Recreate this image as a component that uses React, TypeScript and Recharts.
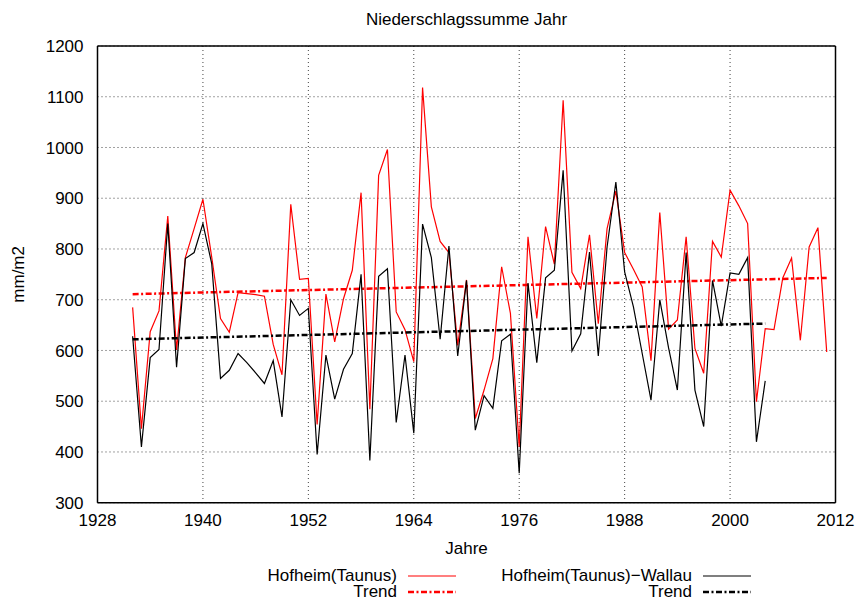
import React from "react";
import { CartesianGrid, Label, Legend, Line, LineChart, XAxis, YAxis } from "recharts";

// Jahresniederschlag in mm/m2
const years = [
  1932, 1933, 1934, 1935, 1936, 1937, 1938, 1939, 1940, 1941,
  1942, 1943, 1944, 1945, 1946, 1947, 1948, 1949, 1950, 1951,
  1952, 1953, 1954, 1955, 1956, 1957, 1958, 1959, 1960, 1961,
  1962, 1963, 1964, 1965, 1966, 1967, 1968, 1969, 1970, 1971,
  1972, 1973, 1974, 1975, 1976, 1977, 1978, 1979, 1980, 1981,
  1982, 1983, 1984, 1985, 1986, 1987, 1988, 1989, 1990, 1991,
  1992, 1993, 1994, 1995, 1996, 1997, 1998, 1999, 2000, 2001,
  2002, 2003, 2004, 2005, 2006, 2007, 2008, 2009, 2010, 2011,
];

const hofheimMm = [
  685, 446, 637, 678, 865, 601, 783, 840, 898, 784,
  663, 636, 714, 712, 710, 707, 612, 552, 888, 740,
  742, 454, 711, 617, 702, 758, 911, 484, 945, 996,
  676, 641, 578, 1118, 883, 815, 793, 610, 739, 466,
  522, 584, 765, 673, 410, 824, 663, 844, 770, 1093,
  754, 722, 828, 653, 840, 914, 793, 760, 725, 580,
  872, 642, 660, 824, 604, 555, 815, 784, 916, 885,
  850, 499, 643, 641, 743, 782, 620, 804, 842, 597,
];

// Wallau endet 2004
const wallauMm = [
  628, 410, 586, 602, 850, 567, 781, 793, 850, 771,
  545, 561, 594, 576, 556, 535, 580, 469, 700, 669,
  683, 395, 591, 504, 563, 594, 750, 383, 746, 761,
  458, 591, 437, 849, 783, 622, 806, 589, 738, 443,
  511, 486, 619, 632, 358, 733, 576, 743, 758, 955,
  599, 633, 794, 589, 804, 932, 755, 686, 594, 502,
  700, 605, 522, 793, 522, 450, 738, 648, 753, 750,
  783, 420, 540,
];

// lineare Trends: Anfangs- und Endpunkt
const hofheimTrendYears = [1932, 2011];
const hofheimTrendMm = [711, 743];
const wallauTrendYears = [1932, 2004];
const wallauTrendMm = [622, 653];

const yearTicks = [1928, 1940, 1952, 1964, 1976, 1988, 2000, 2012];
const minorYearTicks = [1933, 1938, 1945, 1950, 1957, 1962, 1969, 1974, 1981, 1986, 1993, 1998, 2005, 2010];
const mmTicks = [300, 400, 500, 600, 700, 800, 900, 1000, 1100, 1200];

const data = years.map((year, i) => {
  const ht = hofheimTrendYears.indexOf(year);
  const wt = wallauTrendYears.indexOf(year);
  return {
    year,
    hofheim: hofheimMm[i],
    wallau: i < wallauMm.length ? wallauMm[i] : null,
    hofheimTrend: ht >= 0 ? hofheimTrendMm[ht] : null,
    wallauTrend: wt >= 0 ? wallauTrendMm[wt] : null,
  };
});

const FONT = "'Liberation Sans', Arial, Helvetica, sans-serif";
const DASH_DOT = "6 2.5 2 2.5";
const border = { stroke: "#000", strokeWidth: 1.5 };

function LegendBlock({ payload }: any) {
  const find = (k: string) => (payload || []).find((p: any) => p.dataKey === k);
  const columns = [
    ["hofheim", "hofheimTrend"],
    ["wallau", "wallauTrend"],
  ];
  const colLeft = [197, 492];
  return (
    <div style={{ position: "relative", width: 856, height: 34, fontFamily: FONT, fontSize: 17, color: "#000" }}>
      {columns.map((keys, c) => (
        <div key={c} style={{ position: "absolute", left: colLeft[c], top: 0 }}>
          {keys.map((k) => {
            const e = find(k);
            if (!e) return null;
            const p = e.payload || {};
            return (
              <div key={k} style={{ display: "flex", alignItems: "center", height: 16.6 }}>
                <span style={{ width: 200, textAlign: "right", whiteSpace: "nowrap", lineHeight: "16px" }}>{e.value}</span>
                <svg width={60} height={8}>
                  <line
                    x1={11}
                    x2={59}
                    y1={4}
                    y2={4}
                    stroke={e.color}
                    strokeWidth={p.strokeWidth || 1.2}
                    strokeDasharray={p.strokeDasharray}
                  />
                </svg>
              </div>
            );
          })}
        </div>
      ))}
    </div>
  );
}

export default function App() {
  return (
    <div style={{ position: "absolute", left: 0, top: 0, width: 856, height: 600, background: "#fff", fontFamily: FONT }}>
      <div
        style={{
          position: "absolute",
          left: 97.5,
          top: 11,
          width: 738,
          textAlign: "center",
          fontSize: 17,
          lineHeight: "17px",
          color: "#000",
        }}
      >
        Niederschlagssumme Jahr
      </div>
      <LineChart width={856} height={600} data={data} margin={{ top: 46, right: 20.5, left: 0, bottom: 46.3 }}>
        <CartesianGrid stroke="#444" strokeDasharray="1 3" />

        {/* Beschriftete Achsen */}
        <XAxis
          dataKey="year"
          type="number"
          domain={[1928, 2012]}
          allowDataOverflow
          ticks={yearTicks}
          tickLine={false}
          tickSize={0}
          tickMargin={11}
          axisLine={border}
          height={51}
          tick={{ fill: "#000", fontSize: 17 }}
        >
          <Label value="Jahre" position="insideBottom" offset={0} fill="#000" fontSize={17} />
        </XAxis>
        <YAxis
          type="number"
          domain={[300, 1200]}
          allowDataOverflow
          ticks={mmTicks}
          tickLine={false}
          tickSize={0}
          tickMargin={14}
          axisLine={border}
          width={97.5}
          tick={{ fill: "#000", fontSize: 17 }}
        >
          <Label
            value="mm/m2"
            angle={-90}
            position="insideLeft"
            offset={18}
            fill="#000"
            fontSize={17}
            style={{ textAnchor: "middle" }}
          />
        </YAxis>

        {/* Innenliegende Teilstriche und Rahmen oben/rechts */}
        <XAxis xAxisId="bMaj" type="number" domain={[1928, 2012]} allowDataOverflow ticks={yearTicks}
          mirror height={1} tickSize={9} tick={false} axisLine={false} tickLine={border} />
        <XAxis xAxisId="bMin" type="number" domain={[1928, 2012]} allowDataOverflow ticks={minorYearTicks}
          mirror height={1} tickSize={4.5} tick={false} axisLine={false} tickLine={border} />
        <XAxis xAxisId="tMaj" orientation="top" type="number" domain={[1928, 2012]} allowDataOverflow ticks={yearTicks}
          mirror height={1} tickSize={9} tick={false} axisLine={border} tickLine={border} />
        <XAxis xAxisId="tMin" orientation="top" type="number" domain={[1928, 2012]} allowDataOverflow ticks={minorYearTicks}
          mirror height={1} tickSize={4.5} tick={false} axisLine={false} tickLine={border} />
        <YAxis yAxisId="lMaj" type="number" domain={[300, 1200]} allowDataOverflow ticks={mmTicks}
          mirror width={1} tickSize={9} tick={false} axisLine={false} tickLine={border} />
        <YAxis yAxisId="rMaj" orientation="right" type="number" domain={[300, 1200]} allowDataOverflow ticks={mmTicks}
          mirror width={1} tickSize={9} tick={false} axisLine={border} tickLine={border} />

        <Line name="Hofheim(Taunus)" dataKey="hofheim" stroke="#ff0000" strokeWidth={1.2}
          dot={false} activeDot={false} isAnimationActive={false} />
        <Line name="Trend" dataKey="hofheimTrend" stroke="#ff0000" strokeWidth={2.5} strokeDasharray={DASH_DOT}
          connectNulls dot={false} activeDot={false} isAnimationActive={false} />
        <Line name="Hofheim(Taunus)−Wallau" dataKey="wallau" stroke="#000" strokeWidth={1.2}
          dot={false} activeDot={false} isAnimationActive={false} />
        <Line name="Trend" dataKey="wallauTrend" stroke="#000" strokeWidth={2.5} strokeDasharray={DASH_DOT}
          connectNulls dot={false} activeDot={false} isAnimationActive={false} />

        <Legend
          content={LegendBlock}
          verticalAlign="middle"
          wrapperStyle={{ top: 567.4, left: 0, width: 856 }}
        />
      </LineChart>
    </div>
  );
}
